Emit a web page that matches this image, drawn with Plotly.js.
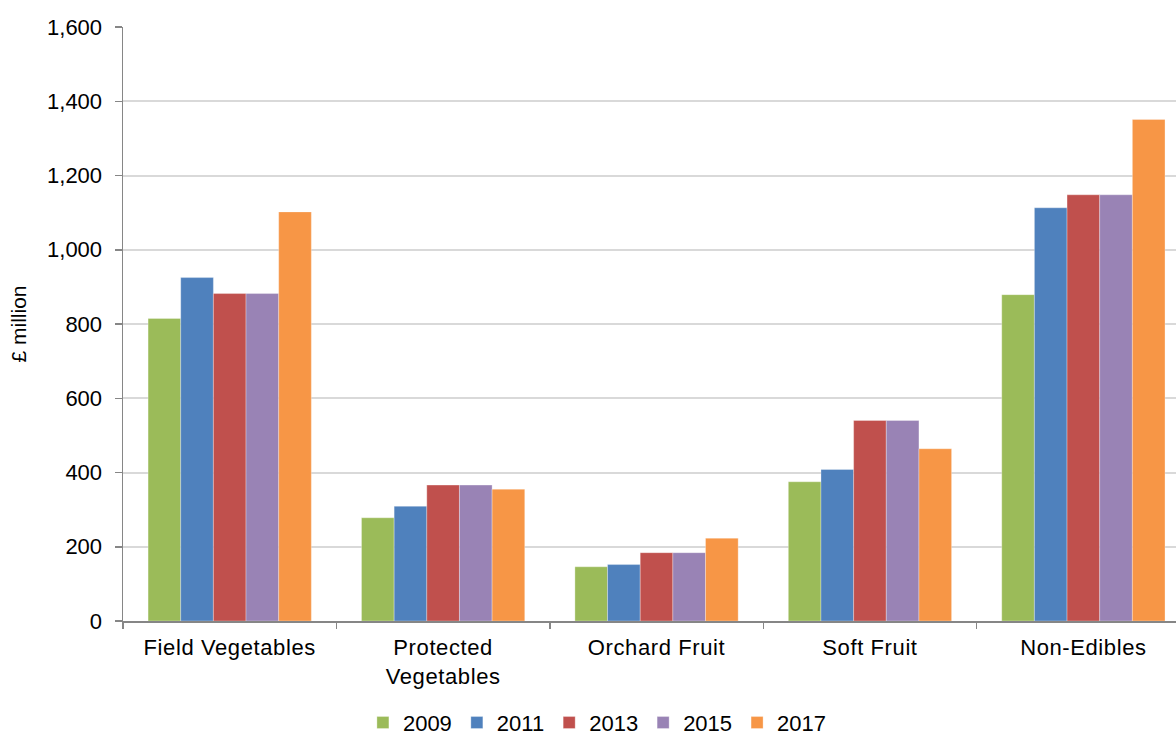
<!DOCTYPE html>
<html>
<head>
<meta charset="utf-8">
<script src="https://cdn.plot.ly/plotly-3.0.1.min.js"></script>
<style>html,body{margin:0;padding:0;background:#fff;}#chart{width:1176px;height:736px;}
.xtick text{letter-spacing:0.6px;}
</style>
</head>
<body>
<div id="chart"></div>
<script>
const categories = ["Field Vegetables", "Protected<br>Vegetables", "Orchard Fruit", "Soft Fruit", "Non-Edibles"];
const years = ["2009", "2011", "2013", "2015", "2017"];
const v2009 = [815, 278, 146, 375, 879];
const v2011 = [925, 309, 152, 408, 1113];
const v2013 = [882, 366, 184, 540, 1148];
const v2015 = [882, 366, 184, 540, 1148];
const v2017 = [1102, 355, 223, 464, 1351];
const yTicks = [0, 200, 400, 600, 800, 1000, 1200, 1400, 1600];
const gridTicks = [200, 400, 600, 800, 1000, 1200, 1400];
const colors = ["#9BBB59", "#4F81BD", "#C0504D", "#9983B5", "#F79646"];
const series = [v2009, v2011, v2013, v2015, v2017];

const font = "Liberation Sans, Arial, sans-serif";
const traces = series.map((vals, i) => ({
  type: "bar",
  name: years[i],
  x: categories,
  y: vals,
  marker: {color: colors[i], line: {color: "rgba(255,255,255,0.5)", width: 0.6}},
  hoverinfo: "x+y+name"
}));
traces.push({type: "scatter", x: [categories[0]], y: [0], yaxis: "y2", mode: "markers", marker: {opacity: 0}, showlegend: false, hoverinfo: "skip"});

const layout = {
  width: 1176, height: 736,
  margin: {l: 123, r: 0, t: 27, b: 115},
  paper_bgcolor: "#fff", plot_bgcolor: "#fff",
  font: {family: font, size: 22, color: "#000"},
  barmode: "group",
  bargap: 0.235,
  bargroupgap: 0,
  showlegend: true,
  legend: {
    orientation: "h", xref: "container", yref: "container",
    x: 0.508, xanchor: "center", y: 0.018, yanchor: "middle",
    font: {family: font, size: 22, color: "#000"},
    itemwidth: 30, tracegroupgap: 0
  },
  xaxis: {
    type: "category",
    range: [-0.5, 4.434],
    showline: true, linecolor: "#868686", linewidth: 1.5,
    ticks: "outside", ticklen: 6, tickcolor: "#868686", tickwidth: 1.5,
    tickson: "boundaries",
    showgrid: false, zeroline: false,
    tickfont: {family: font, size: 22, color: "#000"},
    ticklabelstandoff: 6
  },
  yaxis: {
    range: [0, 1600],
    tickvals: yTicks,
    ticktext: yTicks.map(v => v.toLocaleString("en-GB")),
    showline: true, linecolor: "#868686", linewidth: 1.5,
    ticks: "outside", ticklen: 7, tickcolor: "#868686", tickwidth: 1.5,
    showgrid: false, zeroline: false,
    tickfont: {family: font, size: 22, color: "#000"},
    ticklabelstandoff: 8,
    title: {text: "£ million", font: {family: font, size: 21, color: "#000"}, standoff: 14}
  },
  yaxis2: {
    overlaying: "y", range: [0, 1600],
    tickvals: gridTicks, showticklabels: false, ticks: "",
    showgrid: true, gridcolor: "#d9d9d9", gridwidth: 2,
    zeroline: false, showline: false
  }
};

Plotly.newPlot("chart", traces, layout, {displayModeBar: false, staticPlot: true});
</script>
</body>
</html>
